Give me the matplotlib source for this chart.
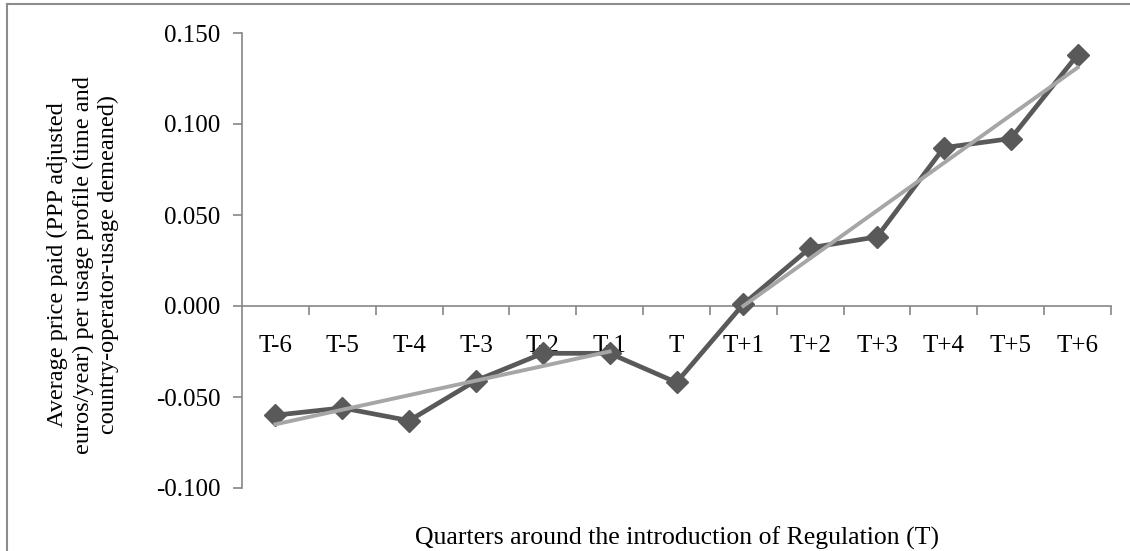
import matplotlib
matplotlib.use("Agg")
import matplotlib.pyplot as plt
from matplotlib.lines import Line2D

# data
quarters = ["T-6", "T-5", "T-4", "T-3", "T-2", "T-1", "T",
            "T+1", "T+2", "T+3", "T+4", "T+5", "T+6"]
avg_price = [-0.060, -0.056, -0.063, -0.041, -0.026, -0.026, -0.042,
             0.001, 0.032, 0.038, 0.087, 0.092, 0.138]

# linear trends, before and after regulation
trend_pre_idx = [0, 5]
trend_pre = [-0.065, -0.025]
trend_post_idx = [7, 12]
trend_post = [0.000, 0.131]

y_ticks = [-0.100, -0.050, 0.000, 0.050, 0.100, 0.150]

plt.rcParams["font.family"] = ["Liberation Serif", "DejaVu Serif"]

fig = plt.figure(figsize=(11.3, 5.51), dpi=100)
ax = fig.add_axes([242 / 1130, 1 - 488 / 551, (1111 - 242) / 1130, (488 - 33) / 551])

x = list(range(len(quarters)))
ax.plot(x, avg_price, color="#595959", linewidth=3.4, marker="D",
        markersize=11.5, zorder=3)
ax.plot(trend_pre_idx, trend_pre, color="#A6A6A6", linewidth=2.8, zorder=4)
ax.plot(trend_post_idx, trend_post, color="#A6A6A6", linewidth=2.8, zorder=4)

ax.set_xlim(-0.5, len(quarters) - 0.5)
ax.set_ylim(-0.100, 0.150)
ax.set_yticks(y_ticks)
ax.set_yticklabels([f"{v:.3f}" for v in y_ticks])

# category boundaries carry the tick marks, labels sit at the centres
ax.set_xticks([i + 0.5 for i in range(len(quarters))])
ax.set_xticklabels([])
ax.set_xticks(x, minor=True)
ax.set_xticklabels(quarters, minor=True)

for s in ["top", "right"]:
    ax.spines[s].set_visible(False)
ax.spines["bottom"].set_position(("data", 0))
ax.spines["left"].set_color("#868686")
ax.spines["bottom"].set_color("#868686")
ax.spines["left"].set_linewidth(1.2)
ax.spines["bottom"].set_linewidth(1.2)

ax.tick_params(axis="y", direction="out", length=6.5, width=1.2, color="#868686",
               labelsize=18, pad=9)
ax.tick_params(axis="x", which="major", direction="out", length=6.5, width=1.2,
               color="#868686")
ax.tick_params(axis="x", which="minor", length=0, labelsize=18, pad=21)

fig.text(677 / 1130, 1 - 538 / 551, "Quarters around the introduction of Regulation (T)",
         ha="center", va="center", fontsize=18.5)
fig.text(83 / 1130, 1 - 265 / 551,
         "Average price paid (PPP adjusted\neuros/year) per usage profile (time and\ncountry-operator-usage demeaned)",
         ha="center", va="center", rotation=90, fontsize=17.5, linespacing=1.27,
         multialignment="center")

# outer frame (top and left edges visible)
fig.add_artist(Line2D([7 / 1130, 7 / 1130], [0, 1 - 4 / 551], color="#8c8c8c",
                      linewidth=1.5, transform=fig.transFigure))
fig.add_artist(Line2D([7 / 1130, 1], [1 - 4 / 551, 1 - 4 / 551], color="#8c8c8c",
                      linewidth=1.5, transform=fig.transFigure))

fig.savefig("out.png", dpi=100)
